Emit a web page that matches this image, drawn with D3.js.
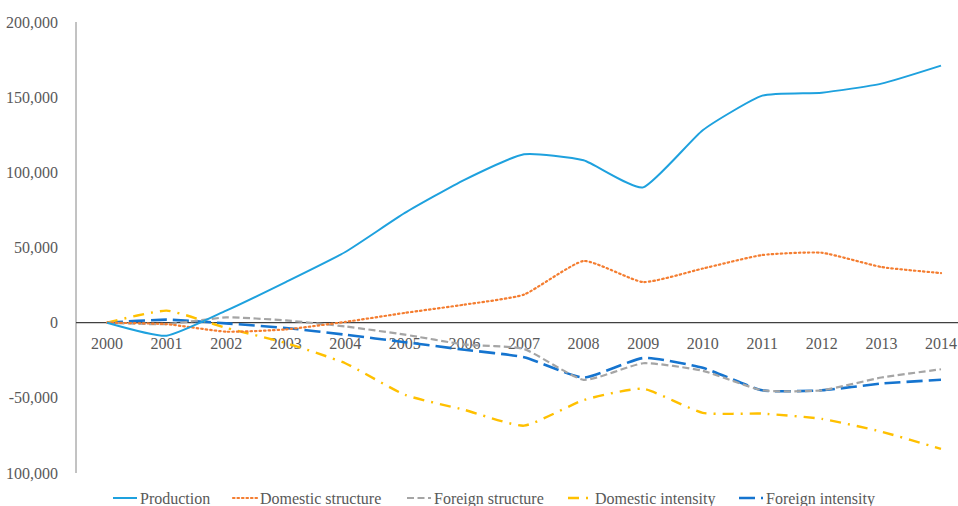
<!DOCTYPE html>
<html lang="en">
<head>
<meta charset="UTF-8">
<title>Decomposition</title>
<style>
  body { margin: 0; background: #fff; }
  text { font-family: "Liberation Serif", serif; fill: #595959; }
</style>
</head>
<body>
<svg id="chart" width="958" height="506"></svg>
<script src="https://d3js.org/d3.v7.min.js"></script>
<script>
// data
const years = ["2000","2001","2002","2003","2004","2005","2006","2007","2008","2009","2010","2011","2012","2013","2014"];
const production        = [0, -8700, 8000, 27000, 47000, 73000, 95000, 112000, 108000, 90000, 128000, 151000, 153000, 159000, 171000];
const domesticStructure = [0, -1000, -6000, -4500, 500, 6500, 12000, 18700, 41000, 27000, 36000, 45000, 46500, 37000, 33000];
const foreignStructure  = [0, -1000, 3500, 1500, -2500, -8000, -14500, -17500, -38000, -27000, -32000, -45000, -45000, -36500, -31000];
const domesticIntensity = [0, 8000, -3500, -13500, -27000, -48000, -58000, -68500, -51500, -44000, -60000, -60500, -64000, -72500, -84000];
const foreignIntensity  = [0, 2000, -500, -3500, -8000, -13000, -18000, -23000, -36500, -23500, -30000, -45000, -45000, -40500, -38000];
const yTicks = [200000, 150000, 100000, 50000, 0, -50000, -100000];
const yTickLabels = ["200,000", "150,000", "100,000", "50,000", "0", "-50,000", "100,000"];

const series = [
  { name: "Production",         values: production,        color: "#1ea1de", dash: null,          width: 2 },
  { name: "Domestic structure", values: domesticStructure, color: "#f47d30", dash: "1.5,3",       width: 2.2 },
  { name: "Foreign structure",  values: foreignStructure,  color: "#a5a5a5", dash: "7,3.5",       width: 2.2 },
  { name: "Domestic intensity", values: domesticIntensity, color: "#ffc000", dash: "11,7,2,7",    width: 2.4 },
  { name: "Foreign intensity",  values: foreignIntensity,  color: "#1574cf", dash: "16,6",        width: 2.6 }
];

const svg = d3.select("#chart");

const x = d3.scalePoint().domain(years).range([107, 941]);
const y = d3.scaleLinear().domain([-100000, 200000]).range([473, 22]);

// y axis line
svg.append("line")
  .attr("x1", 76).attr("x2", 76)
  .attr("y1", y(200000)).attr("y2", y(-100000))
  .attr("stroke", "#868686").attr("stroke-width", 1);

// y tick labels
svg.append("g")
  .selectAll("text")
  .data(yTicks)
  .join("text")
    .attr("x", 58)
    .attr("y", d => y(d))
    .attr("dy", "0.35em")
    .attr("text-anchor", "end")
    .style("font-size", "16px")
    .text((d, i) => yTickLabels[i]);

// zero line
svg.append("line")
  .attr("x1", 76).attr("x2", 958)
  .attr("y1", y(0)).attr("y2", y(0))
  .attr("stroke", "#404040").attr("stroke-width", 1.2);

// x labels
svg.append("g")
  .selectAll("text")
  .data(years)
  .join("text")
    .attr("x", d => x(d))
    .attr("y", y(0) + 26)
    .attr("text-anchor", "middle")
    .style("font-size", "16px")
    .text(d => d);

// lines (light smoothing, like the spreadsheet's smoothed lines)
const line = d3.line()
  .x((d, i) => x(years[i]))
  .y(d => y(d))
  .curve(d3.curveCardinal.tension(0.5));

svg.append("g")
  .selectAll("path")
  .data(series.slice().reverse())
  .join("path")
    .attr("d", d => line(d.values))
    .attr("fill", "none")
    .attr("stroke", d => d.color)
    .attr("stroke-width", d => d.width)
    .attr("stroke-dasharray", d => d.dash)
    .attr("stroke-linecap", d => d.name === "Domestic structure" ? "round" : "butt");

// legend
const legendX = [113, 233, 407, 568, 739];
const leg = svg.append("g")
  .selectAll("g")
  .data(series)
  .join("g")
    .attr("transform", (d, i) => `translate(${legendX[i]},498)`);

leg.append("line")
  .attr("x1", 0).attr("x2", 24)
  .attr("y1", 0).attr("y2", 0)
  .attr("stroke", d => d.color)
  .attr("stroke-width", d => d.width)
  .attr("stroke-dasharray", d => d.dash)
  .attr("stroke-linecap", d => d.name === "Domestic structure" ? "round" : "butt");

leg.append("text")
  .attr("x", 27)
  .attr("y", 0)
  .attr("dy", "0.35em")
  .style("font-size", "16px")
  .text(d => d.name);
</script>
</body>
</html>
